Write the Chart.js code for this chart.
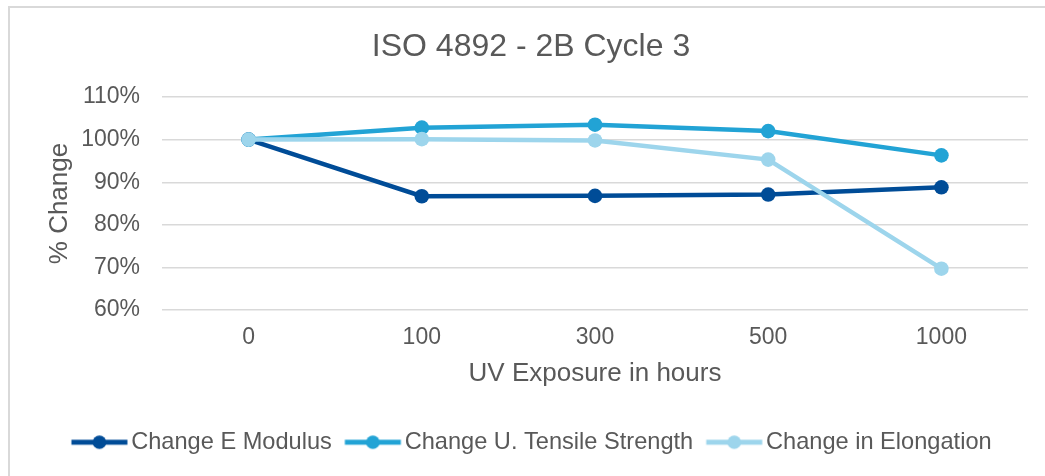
<!DOCTYPE html>
<html><head><meta charset="utf-8">
<script src="https://cdn.jsdelivr.net/npm/chart.js@4.4.1/dist/chart.umd.min.js"></script>
<style>
html,body{margin:0;padding:0;background:#fff;overflow:hidden;width:1045px;height:476px;}
#frame{position:absolute;left:8px;top:6px;width:1100px;height:520px;border:2px solid #d9d9d9;box-sizing:border-box;}
#wrap{position:absolute;left:0;top:0;width:1045px;height:476px;}
</style></head><body>
<div id="frame"></div>
<div id="wrap"><canvas id="c" width="1045" height="476"></canvas></div>
<script>
const chartTitle = 'ISO 4892 - 2B Cycle 3';
const xTitle = 'UV Exposure in hours';
const yTitle = '% Change';
const categories = ['0', '100', '300', '500', '1000'];
const eModulus = [100, 86.7, 86.8, 87.1, 88.8];
const tensile = [100, 102.8, 103.5, 102.0, 96.3];
const elongation = [100, 100.1, 99.8, 95.3, 69.7];
const seriesNames = ['Change E Modulus', 'Change U. Tensile Strength', 'Change in Elongation'];
const seriesColors = ['#004C97', '#22A3D5', '#9DD5EC'];
const yTicks = [60, 70, 80, 90, 100, 110];

Chart.defaults.font.family = '"Liberation Sans", Arial, sans-serif';
Chart.defaults.color = '#595959';

// legend swatch: line with a marker, drawn into a small canvas
function legendIcon(color) {
  const c = document.createElement('canvas');
  c.width = 76; c.height = 16;
  const g = c.getContext('2d');
  g.strokeStyle = color; g.lineWidth = 5;
  g.beginPath(); g.moveTo(14.5, 8); g.lineTo(70.5, 8); g.stroke();
  g.fillStyle = color;
  g.beginPath(); g.arc(42.5, 8, 6.8, 0, Math.PI * 2); g.fill();
  return c;
}
const icons = seriesColors.map(legendIcon);

function ds(i, data, order) {
  return {
    label: seriesNames[i], data: data,
    borderColor: seriesColors[i], backgroundColor: seriesColors[i],
    pointBackgroundColor: seriesColors[i], pointBorderColor: seriesColors[i],
    borderWidth: 4.5, pointRadius: 7.3, pointBorderWidth: 0,
    tension: 0, fill: false, order: order
  };
}

new Chart(document.getElementById('c'), {
  type: 'line',
  data: {
    labels: categories,
    datasets: [ds(0, eModulus, 3), ds(1, tensile, 2), ds(2, elongation, 1)]
  },
  options: {
    responsive: false, animation: false,
    layout: { padding: { left: 34, right: 17, top: 0, bottom: 12 } },
    plugins: {
      tooltip: { enabled: false },
      title: {
        display: true, text: chartTitle, color: '#595959',
        font: { size: 32, weight: 'normal' },
        padding: { top: 28, bottom: 30.6 }
      },
      legend: {
        position: 'bottom',
        labels: {
          usePointStyle: true, pointStyleWidth: 49, padding: 12,
          font: { size: 23.6 }, color: '#595959',
          sort: (a, b) => a.datasetIndex - b.datasetIndex,
          generateLabels: (chart) => {
            const items = Chart.defaults.plugins.legend.labels.generateLabels(chart);
            items.forEach(it => { it.pointStyle = icons[it.datasetIndex]; });
            return items;
          }
        }
      }
    },
    scales: {
      x: {
        offset: true,
        grid: { display: false, drawTicks: false },
        border: { display: false },
        ticks: { font: { size: 23 }, color: '#595959', padding: 14 },
        title: { display: true, text: xTitle, font: { size: 26 }, color: '#595959', padding: { top: 0, bottom: 28.8 } },
        afterFit: s => { s.height = 108.4; }
      },
      y: {
        min: 60, max: 110,
        afterBuildTicks: s => { s.ticks = yTicks.map(v => ({ value: v })); },
        grid: { color: '#D9D9D9', lineWidth: 1.4, drawTicks: false },
        border: { display: false },
        ticks: { font: { size: 23 }, color: '#595959', padding: 22, callback: v => v + '%' },
        title: { display: true, text: yTitle, font: { size: 26 }, color: '#595959', padding: { top: 10.4, bottom: 0 } },
        afterFit: s => { s.width = 128; }
      }
    }
  }
});
</script>
</body></html>
